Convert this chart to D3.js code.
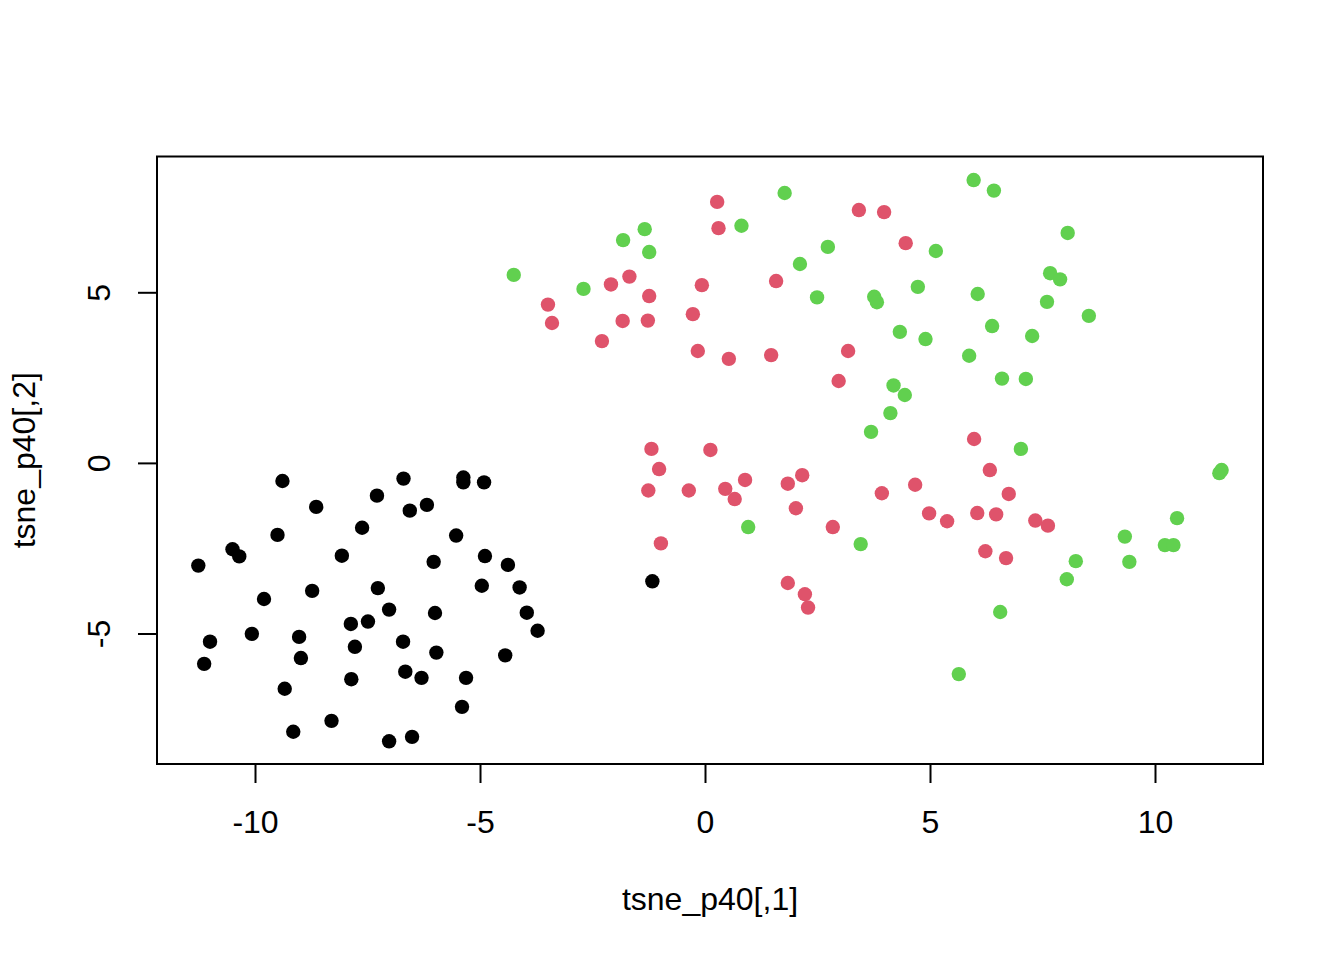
<!DOCTYPE html>
<html>
<head>
  <meta charset="utf-8">
  <title>tsne_p40</title>
  <script src="https://d3js.org/d3.v7.min.js"></script>
  <style>
    body { margin: 0; background: #fff; }
    svg text { font-family: "Liberation Sans", Arial, sans-serif; }
  </style>
</head>
<body>
<div id="chart"></div>
<script>
// values, one pair of arrays per group
var group1X = [-9.39, -8.64, -9.50, -10.50, -10.35, -11.26, -8.07, -9.80, -8.73, -11.00,
               -11.13, -10.07, -9.02, -8.98, -9.34, -9.15, -8.30, -7.62, -7.29, -6.70,
               -6.56, -6.18, -5.37, -5.37, -4.91, -5.53, -6.03, -4.89, -4.38, -7.27,
               -4.96, -4.12, -7.02, -6.00, -3.96, -3.72, -7.87, -7.49, -7.78, -6.71,
               -5.97, -4.44, -6.66, -6.30, -5.31, -7.86, -5.40, -7.02, -6.51, -1.17];
var group1Y = [-0.53, -1.29, -2.11, -2.53, -2.74, -3.01, -2.72, -3.99, -3.75, -5.24,
               -5.89, -5.01, -5.10, -5.72, -6.62, -7.88, -7.56, -1.90, -0.96, -0.46,
               -1.40, -1.23, -0.43, -0.57, -0.57, -2.13, -2.90, -2.73, -2.99, -3.67,
               -3.60, -3.65, -4.30, -4.40, -4.39, -4.92, -4.72, -4.65, -5.39, -5.24,
               -5.56, -5.64, -6.12, -6.30, -6.30, -6.34, -7.15, -8.16, -8.03, -3.47];

var group2X = [-3.49, -3.40, -2.29, -2.09, -1.83, -1.68, -1.27, -1.24, -1.19, -1.26,
               -1.02, -0.98, -0.36, -0.27, -0.16, -0.07, 0.12, 0.27, 0.30, 0.45,
               0.53, 0.66, 0.89, 1.47, 1.58, 1.84, 1.84, 2.02, 2.16, 2.22,
               2.29, 2.84, 2.97, 3.18, 3.42, 3.93, 3.98, 4.46, 4.67, 4.98,
               5.38, 5.98, 6.05, 6.23, 6.33, 6.47, 6.69, 6.75, 7.34, 7.62];
var group2Y = [4.64, 4.10, 3.57, 5.23, 4.16, 5.46, 4.17, 4.89, 0.41, -0.81,
               -0.18, -2.36, -0.81, 4.36, 3.28, 5.21, 0.38, 7.65, 6.88, -0.76,
               3.05, -1.06, -0.50, 3.16, 5.33, -0.61, -3.52, -1.33, -0.36, -3.85,
               -4.24, -1.88, 2.40, 3.28, 7.41, -0.89, 7.35, 6.44, -0.64, -1.48,
               -1.71, 0.70, -1.47, -2.59, -0.21, -1.51, -2.79, -0.91, -1.69, -1.84];

var group3X = [-4.25, -2.70, -1.82, -1.34, -1.24, 0.81, 0.96, 1.77, 2.11, 2.49,
               2.73, 3.46, 3.69, 3.76, 3.82, 4.12, 4.19, 4.33, 4.44, 4.73,
               4.90, 5.13, 5.87, 5.97, 6.06, 5.64, 6.38, 6.42, 6.56, 6.60,
               7.02, 7.13, 7.27, 7.60, 7.67, 7.89, 8.06, 8.04, 8.24, 8.53,
               9.33, 9.43, 10.22, 10.41, 10.49, 11.43, 11.48];
var group3Y = [5.51, 5.10, 6.53, 6.85, 6.18, 6.95, -1.88, 7.91, 5.83, 4.85,
               6.33, -2.38, 0.91, 4.87, 4.71, 1.46, 2.27, 3.84, 1.99, 5.16,
               3.63, 6.21, 3.14, 8.29, 4.95, -6.19, 4.01, 7.98, -4.37, 2.47,
               0.41, 2.46, 3.72, 4.72, 5.56, 5.38, 6.74, -3.41, -2.88, 4.31,
               -2.16, -2.90, -2.41, -2.41, -1.62, -0.30, -0.21];

var groupColors = ["#000000", "#DF536B", "#61D04F"];
var xTicks = [-10, -5, 0, 5, 10];
var yTicks = [-5, 0, 5];
var xTitle = "tsne_p40[,1]";
var yTitle = "tsne_p40[,2]";

var W = 1344, H = 960;
var margin = {top: 156.5, right: 81, bottom: 196, left: 157},
    width  = W - margin.left - margin.right,
    height = H - margin.top - margin.bottom;

var svg = d3.select("#chart").append("svg")
    .attr("width", W)
    .attr("height", H);

var g = svg.append("g")
    .attr("transform", "translate(" + margin.left + "," + margin.top + ")");

// R pads the range by 4% on each side
var xScale = d3.scaleLinear().domain([-12.178, 12.4]).range([0, width]);
var yScale = d3.scaleLinear().domain([-8.825, 8.98]).range([height, 0]);

var points = [];
[[group1X, group1Y], [group2X, group2Y], [group3X, group3Y]].forEach(function(p, i) {
  p[0].forEach(function(v, j) {
    points.push({x: v, y: p[1][j], grp: i});
  });
});

g.selectAll(".pt")
    .data(points)
    .enter()
    .append("circle")
    .attr("class", "pt")
    .attr("cx", function(d) { return xScale(d.x); })
    .attr("cy", function(d) { return yScale(d.y); })
    .attr("r", 7.2)
    .attr("fill", function(d) { return groupColors[d.grp]; });

// box
g.append("rect")
    .attr("width", width)
    .attr("height", height)
    .attr("fill", "none")
    .attr("stroke", "#000")
    .attr("stroke-width", 2);

var xAxis = g.append("g")
    .attr("transform", "translate(0," + height + ")")
    .call(d3.axisBottom(xScale).tickValues(xTicks).tickSize(19).tickSizeOuter(0)
      .tickFormat(function(d) { return d < 0 ? "-" + Math.abs(d) : d; }));
xAxis.select(".domain").remove();
xAxis.selectAll("line").attr("stroke-width", 2);
xAxis.selectAll("text")
    .attr("y", 69)
    .attr("dy", null)
    .attr("font-size", 32)
    .attr("font-family", "Liberation Sans, Arial, sans-serif")
    .attr("fill", "#000");

var yAxis = g.append("g")
    .call(d3.axisLeft(yScale).tickValues(yTicks).tickSize(19).tickSizeOuter(0)
      .tickFormat(function(d) { return d < 0 ? "-" + Math.abs(d) : d; }));
yAxis.select(".domain").remove();
yAxis.selectAll("line").attr("stroke-width", 2);
yAxis.selectAll("text")
    .attr("x", 0)
    .attr("y", -47)
    .attr("dy", null)
    .attr("transform", "rotate(-90)")
    .attr("text-anchor", "middle")
    .attr("font-size", 32)
    .attr("font-family", "Liberation Sans, Arial, sans-serif")
    .attr("fill", "#000");

svg.append("text")
    .attr("x", margin.left + width / 2)
    .attr("y", 910)
    .attr("text-anchor", "middle")
    .attr("font-size", 32)
    .text(xTitle);

svg.append("text")
    .attr("transform", "translate(35," + (margin.top + height / 2) + ") rotate(-90)")
    .attr("text-anchor", "middle")
    .attr("font-size", 32)
    .text(yTitle);
</script>
</body>
</html>
